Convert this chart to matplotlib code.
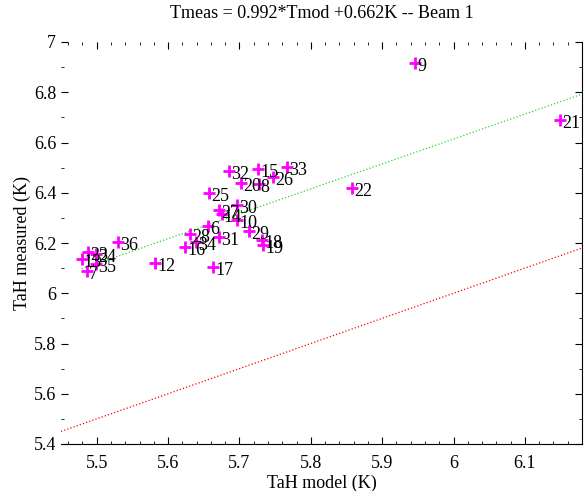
import numpy as np
import matplotlib.pyplot as plt
from matplotlib.ticker import MultipleLocator, FormatStrFormatter

plt.rcParams['font.family'] = ['Liberation Serif', 'DejaVu Serif']

# fit parameters from the title
slope = 0.992
offset = 0.662

# magnet numbers and temperatures (model vs measured)
labels = ['23', '24', '13', '35', '7', '36', '12', '28', '34', '16', '31', '6',
          '17', '29', '18', '19', '10', '14', '27', '30', '25', '20', '8', '32',
          '15', '33', '26', '22', '9', '21']
t_model = [5.488, 5.499, 5.479, 5.499, 5.486, 5.530, 5.582, 5.631, 5.639, 5.624,
           5.671, 5.656, 5.663, 5.713, 5.732, 5.733, 5.697, 5.675, 5.671, 5.697,
           5.657, 5.702, 5.727, 5.685, 5.726, 5.767, 5.747, 5.858, 5.946, 6.149]
t_meas = [6.164, 6.156, 6.136, 6.116, 6.089, 6.204, 6.120, 6.236, 6.204, 6.184,
          6.224, 6.268, 6.104, 6.248, 6.212, 6.192, 6.292, 6.315, 6.331, 6.351,
          6.399, 6.439, 6.435, 6.487, 6.495, 6.502, 6.463, 6.419, 6.916, 6.690]

xlim = (5.45, 6.18)
ylim = (5.4, 7.0)

fig = plt.figure(figsize=(5.86, 4.91), dpi=100)
ax = fig.add_axes([61/586, 1-444/491, 521/586, 402/491])

# y = x reference line (red) and fit line (green)
xr = np.array(xlim)
ax.plot(xr, xr, color='red', linestyle=':', linewidth=0.9)
xf = np.array([min(t_model), xlim[1]])
ax.plot(xf, slope*xf + offset, color='#22dd22', linestyle=':', linewidth=0.9)

ax.plot(t_model, t_meas, linestyle='none', marker='+', color='magenta',
        markersize=9, markeredgewidth=2)
for lab, x, y in zip(labels, t_model, t_meas):
    ax.annotate(lab, (x, y), xytext=(1.5, -2.5), textcoords='offset points',
                ha='left', va='center', fontsize=13)

ax.set_xlim(*xlim)
ax.set_ylim(*ylim)
ax.xaxis.set_major_locator(MultipleLocator(0.1))
ax.xaxis.set_minor_locator(MultipleLocator(0.02))
ax.yaxis.set_major_locator(MultipleLocator(0.2))
ax.yaxis.set_minor_locator(MultipleLocator(0.1))
ax.xaxis.set_major_formatter(FormatStrFormatter('%g'))
ax.yaxis.set_major_formatter(FormatStrFormatter('%g'))
ax.tick_params(which='both', direction='in', top=True, right=True, labelsize=13)
ax.tick_params(which='major', length=5)
ax.tick_params(which='minor', length=2.5)
ax.tick_params(axis='x', pad=8)
ax.spines['top'].set_visible(False)
ax.spines['left'].set_visible(False)

ax.set_xlabel('TaH model (K)', fontsize=13, labelpad=2)
ax.set_ylabel('TaH measured (K)', fontsize=13, labelpad=2)
fig.text(0.55, 1 - 13/491, 'Tmeas = 0.992*Tmod +0.662K -- Beam 1',
         ha='center', va='center', fontsize=13)

fig.savefig('out.png', dpi=100)
